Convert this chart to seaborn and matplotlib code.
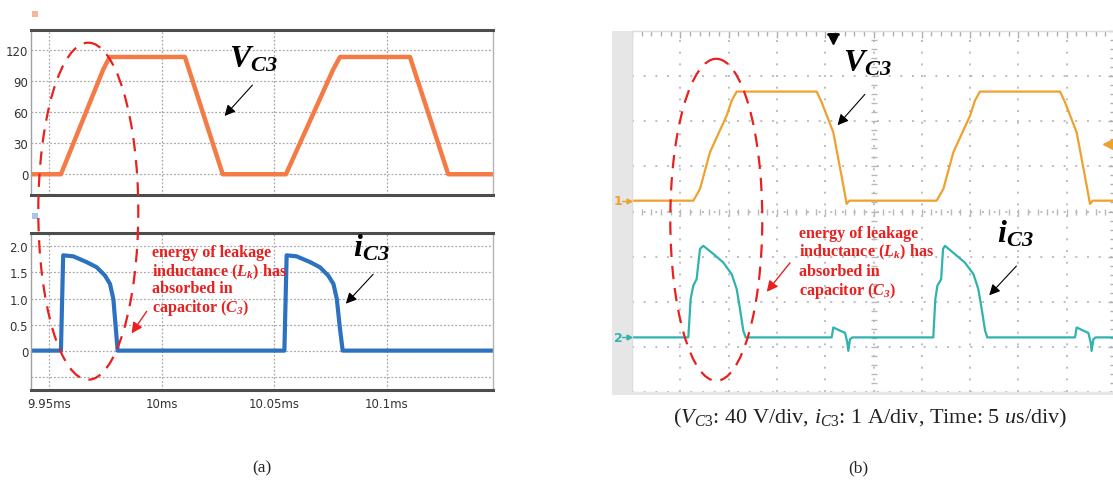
import numpy as np
import matplotlib
matplotlib.use("Agg")
import matplotlib.pyplot as plt
import seaborn as sns
from matplotlib.patches import Ellipse, Rectangle

# ---------------- data: panel (a) simulation ----------------
t_a_v = [9.9419, 9.9552, 9.9740, 9.9769, 10.0103, 10.0271, 10.0552, 10.0762,
         10.0792, 10.1103, 10.1273, 10.1472]          # ms
vc3_a = [0, 0, 101, 113, 113, 0, 0, 101, 113, 113, 0, 0]  # V

t_a_i = [9.9419, 9.9552, 9.9562, 9.9607, 9.9666, 9.9711, 9.9748, 9.9770, 9.9785,
         9.9796, 9.9804, 10.0545, 10.0555, 10.0599, 10.0659, 10.0703, 10.0740,
         10.0763, 10.0778, 10.0792, 10.0804, 10.1472]  # ms
ic3_a = [0, 0, 1.83, 1.81, 1.70, 1.60, 1.44, 1.28, 0.99, 0.42, 0,
         0, 1.83, 1.81, 1.70, 1.60, 1.44, 1.28, 0.99, 0.42, 0, 0]  # A

a_vticks = [0, 30, 60, 90, 120]
a_iticks = [-0.5, 0, 0.5, 1.0, 1.5, 2.0]
a_ilabels = ["", "0", "0.5", "1.0", "1.5", "2.0"]
a_xticks = [9.95, 10.0, 10.05, 10.1]
a_xlabels = ["9.95ms", "10ms", "10.05ms", "10.1ms"]

# ---------------- data: panel (b) experiment ----------------
t_b_v = [0, 6.35, 7.04, 8.07, 9.80, 10.32, 10.84, 19.12, 19.63, 20.84, 21.88,
         22.22, 22.5, 31.54, 32.23, 33.27, 35.0, 35.5, 36.02, 44.31, 44.82,
         46.03, 47.07, 47.41, 47.7, 50]  # us
vc3_b = [0, 0, 10.4, 42.9, 75.4, 88.7, 96.7, 96.7, 87.3, 60.6, 13.3,
         -2.9, 0, 0, 10.4, 43.0, 75.4, 88.7, 96.7, 96.7, 87.3,
         60.6, 13.3, -2.9, 0, 0]  # V

t_b_i = [0, 5.83, 6.07, 6.35, 6.69, 7.04, 7.38, 8.42, 9.45, 10.32, 10.84, 11.18,
         11.52, 11.77, 20.67, 20.84, 21.53, 22.05, 22.29, 22.39, 22.57, 22.8,
         31.19, 31.40, 31.62, 32.00, 32.20, 32.40, 33.40, 34.45, 35.35, 35.85,
         36.20, 36.55, 36.78, 45.86, 46.03, 46.72, 47.24, 47.48, 47.58, 47.76,
         48.0, 50]  # us
ic3_b = [0, 0, 0.85, 1.15, 1.29, 1.96, 2.03, 1.85, 1.66, 1.40, 1.07, 0.63,
         0.15, 0, 0, 0.22, 0.15, 0.10, -0.11, -0.30, -0.04, 0,
         0, 0.85, 1.15, 1.29, 1.96, 2.03, 1.85, 1.66, 1.40, 1.07,
         0.63, 0.15, 0, 0, 0.22, 0.15, 0.10, -0.11, -0.30, -0.04,
         0, 0]  # A

V_PER_DIV = 40.0
A_PER_DIV = 1.0
CH1_OFFSET = 4.24   # divisions from bottom
CH2_OFFSET = 1.21

# ---------------- style ----------------
sns.set_theme(style="white")
plt.rcParams.update({
    "mathtext.fontset": "custom",
    "mathtext.rm": "Liberation Serif",
    "mathtext.it": "Liberation Serif:italic",
    "mathtext.bf": "Liberation Serif:italic:bold",
    "font.family": ["DejaVu Sans"],
})

ORANGE_A = "#F47B46"
BLUE_A = "#2C72C0"
ORANGE_B = "#F0A02E"
TEAL_B = "#2FB3AE"
RED = "#E8201E"

W, H = 1113, 481
fig = plt.figure(figsize=(W / 100, H / 100), dpi=100)


def px_axes(x0, y0, x1, y1):
    return fig.add_axes([x0 / W, 1 - y1 / H, (x1 - x0) / W, (y1 - y0) / H])


tick_font = dict(family=["Liberation Sans Narrow", "DejaVu Sans"], size=8.5, color="#333333")

# ---------- panel (a) ----------
ax1 = px_axes(31, 31, 493, 196)
ax2 = px_axes(31, 234, 493, 391)

sns.lineplot(x=t_a_v, y=vc3_a, ax=ax1, color=ORANGE_A, lw=3.2, sort=False, estimator=None)
sns.lineplot(x=t_a_i, y=ic3_a, ax=ax2, color=BLUE_A, lw=3.0, sort=False, estimator=None)

ax1.set_ylim(-20, 139)
ax2.set_ylim(-0.756, 2.258)
for ax in (ax1, ax2):
    ax.set_xlim(9.9419, 10.1472)
    ax.set_xticks(a_xticks)
    ax.set_axisbelow(True)
    ax.grid(True, color="#a9a9a9", ls=(0, (1.5, 1.5)), lw=0.9)
    ax.tick_params(length=0, pad=2)
    ax.spines["top"].set(color="#4d4d4d", lw=2.2)
    ax.spines["bottom"].set(color="#4d4d4d", lw=2.2)
    ax.spines["left"].set(color="#a0a0a0", lw=1.0)
    ax.spines["right"].set(color="#b5b5b5", lw=1.0)
    ax.set_facecolor("white")

ax1.set_yticks(a_vticks)
ax1.set_yticklabels([str(v) for v in a_vticks], **tick_font)
ax1.set_xticklabels([])
ax2.set_yticks(a_iticks)
ax2.set_yticklabels(a_ilabels, **tick_font)
ax2.set_xticklabels(a_xlabels, **tick_font)
ax2.tick_params(axis="x", pad=5)

# ---------- panel (b) ----------
axb = px_axes(632, 32, 1115, 393)
sns.lineplot(x=t_b_v, y=np.array(vc3_b) / V_PER_DIV + CH1_OFFSET, ax=axb,
             color=ORANGE_B, lw=1.6, sort=False, estimator=None)
sns.lineplot(x=t_b_i, y=np.array(ic3_b) / A_PER_DIV + CH2_OFFSET, ax=axb,
             color=TEAL_B, lw=1.6, sort=False, estimator=None)
axb.set_xlim(0, 50)
axb.set_ylim(0, 8)
axb.set_xticks(np.arange(0, 50.1, 5))
axb.set_yticks(np.arange(0, 8.1, 1))
axb.set_xticks(np.arange(0, 50.1, 1), minor=True)
axb.set_yticks(np.arange(0, 8.01, 0.2), minor=True)
axb.set_axisbelow(True)
axb.grid(True, which="major", color="#bdbdbd", ls=(0, (1, 5)), lw=1.4)
axb.tick_params(which="both", direction="in", top=True, right=True,
                labelbottom=False, labelleft=False, color="#b0b0b0", width=1)
axb.tick_params(which="major", length=5)
axb.tick_params(which="minor", length=3.5)
for s in axb.spines.values():
    s.set(color="#dcdcdc", lw=1)
axb.set_xlabel("")
axb.set_ylabel("")
ax1.set_xlabel(""); ax2.set_xlabel("")
# centre cross graticule
axb.plot(np.arange(0, 50.01, 1.0), np.full(51, 4.0), ls="none", marker="|",
         ms=5, mew=1, color="#b8b8b8", zorder=1)
axb.plot(np.full(41, 25.0), np.arange(0, 8.01, 0.2), ls="none", marker="_",
         ms=5, mew=1, color="#b8b8b8", zorder=1)

# ---------- overlay (annotations in pixel coords) ----------
ov = fig.add_axes([0, 0, 1, 1], zorder=10)
ov.set_xlim(0, W)
ov.set_ylim(H, 0)
ov.axis("off")

# scope bezel
ov.add_patch(Rectangle((612, 32), 20, 363, facecolor="#e6e6e6", edgecolor="none", zorder=0))
ov.add_patch(Rectangle((612, 393), 501, 3, facecolor="#e6e6e6", edgecolor="none", zorder=0))

# small window icons in (a)
ov.add_patch(Rectangle((32, 12), 6, 6, facecolor="#f7b59a", edgecolor="none"))
ov.add_patch(Rectangle((32, 214), 6, 6, facecolor="#a8c6ea", edgecolor="none"))

# channel markers
for yy, col, lab in ((201.7, ORANGE_B, "1"), (338.3, TEAL_B, "2")):
    ov.text(618, yy, lab, color=col, fontsize=9, ha="center", va="center", fontweight="bold")
    ov.plot([622, 630], [yy, yy], color=col, lw=1)
    ov.plot(629, yy, marker=">", ms=3.5, color=col)
# trigger markers
ov.plot([828, 838], [35, 35], color="black", lw=2)
ov.plot(833, 40, marker="v", ms=7, color="black")
ov.plot(1109, 145, marker="<", ms=9, color=ORANGE_B)

# red dashed ellipses
for (cx, cy, w, h) in ((88.3, 212.2, 100, 337), (716.3, 220.8, 92, 322)):
    ov.add_patch(Ellipse((cx, cy), w, h, fill=False, edgecolor=RED, lw=1.6,
                         ls=(0, (6, 4))))

big = dict(fontsize=23, color="black", ha="left", va="baseline")
ov.text(229, 68, r"$\mathbf{V_{C3}}$", **big)
ov.text(843, 72, r"$\mathbf{V_{C3}}$", **big)
ov.text(353, 257, r"$\mathbf{i_{C3}}$", **big)
ov.text(997, 243, r"$\mathbf{i_{C3}}$", **big)

black_arrow = dict(arrowstyle="-|>", color="black", lw=0.8, mutation_scale=16)
red_arrow = dict(arrowstyle="-|>", color=RED, lw=1.0, mutation_scale=16)
ov.annotate("", xy=(222.7, 119), xytext=(254.3, 84), arrowprops=black_arrow)
ov.annotate("", xy=(344, 306.7), xytext=(375, 273.3), arrowprops=black_arrow)
ov.annotate("", xy=(835.7, 128.3), xytext=(866.7, 93.3), arrowprops=black_arrow)
ov.annotate("", xy=(987.3, 298.3), xytext=(1018.3, 265), arrowprops=black_arrow)
ov.annotate("", xy=(130, 336.7), xytext=(148.3, 310), arrowprops=red_arrow)
ov.annotate("", xy=(765, 295), xytext=(791.7, 261.7), arrowprops=red_arrow)

red_lines = ["energy of leakage", r"inductance ($\mathbf{L_k}$) has",
             "absorbed in", r"capacitor ($\mathbf{C_3}$)"]
red_font = dict(color=RED, fontsize=11.6, fontfamily="Liberation Serif",
                fontweight="bold", ha="left", va="baseline")
for line, ya, yb in zip(red_lines, (256.7, 276.7, 293.3, 311.7), (238.3, 256.7, 276, 295)):
    ov.text(152, ya, line, **red_font)
    ov.text(799, yb, line, **red_font)

ov.text(870, 423, r"($\mathit{V_{C3}}$: 40 V/div, $\mathit{i_{C3}}$: 1 A/div, Time: 5 $\mathit{u}$s/div)",
        fontsize=16, fontfamily="Liberation Serif", color="#222222",
        ha="center", va="baseline")
ov.text(262, 468, "(a)", fontsize=12.5, fontfamily="Liberation Serif", ha="center", va="center")
ov.text(858, 468, "(b)", fontsize=12.5, fontfamily="Liberation Serif", ha="center", va="center")

fig.savefig("out.png", dpi=100)
